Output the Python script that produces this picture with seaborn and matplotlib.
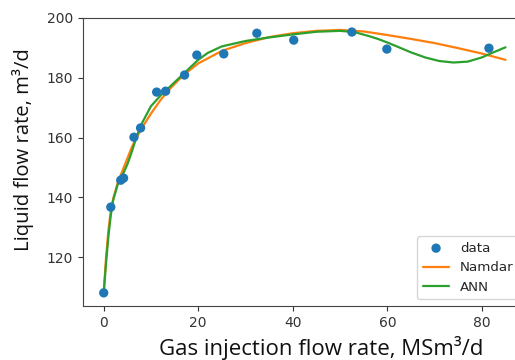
import numpy as np
import pandas as pd
import matplotlib
matplotlib.use("Agg")
import matplotlib.pyplot as plt
import seaborn as sns

sns.set_style("ticks")

# measured points
data_x = [0.0, 1.5, 3.6, 4.2, 6.4, 7.8, 11.2, 13.1, 17.1, 19.7, 25.4, 32.4, 40.2, 52.5, 59.9, 81.5]
data_y = [108.0, 136.7, 145.7, 146.4, 160.1, 163.2, 175.2, 175.5, 180.9, 187.6, 188.0, 194.9, 192.6, 195.3, 189.6, 189.9]

# Namdar correlation curve
namdar_x = [0, 0.5, 1, 1.5, 2, 3, 4, 5, 6, 8, 10, 12, 14, 16, 18, 20, 25, 30, 35, 40,
            45, 50, 55, 60, 65, 70, 75, 80, 85]
namdar_y = [108, 120, 129, 135.5, 139.5, 145, 149, 153, 157, 163, 168, 172.5, 176.3, 179.5, 182.3, 184.8,
            189, 191.6, 193.6, 194.9, 195.7, 196.0, 195.5, 194.3, 193.0, 191.6, 189.9, 188.1, 186.0]

# ANN curve
ann_x = [0, 0.5, 1, 1.5, 2, 3, 4, 5, 6, 7, 8, 10, 12, 14, 16, 18, 20, 22, 25, 30, 35, 40,
         45, 50, 53, 56, 58, 60, 62, 65, 68, 71, 74, 77, 80, 82, 85]
ann_y = [108, 118, 127, 134, 139, 144.5, 147.5, 151, 155.5, 160.5, 164.5, 170.5, 174, 177, 180, 183, 186,
         188.3, 190.5, 192.3, 193.5, 194.5, 195.4, 195.7, 195.3, 194.0, 193.0, 191.8, 190.5, 188.5,
         186.8, 185.6, 185.1, 185.4, 186.8, 188.2, 190.2]

df_data = pd.DataFrame({"x": data_x, "y": data_y})
df_namdar = pd.DataFrame({"x": namdar_x, "y": namdar_y})
df_ann = pd.DataFrame({"x": ann_x, "y": ann_y})

fig = plt.figure(figsize=(5.15, 3.6), dpi=100)
ax = fig.add_axes([0.161, 0.15, 0.86, 0.80])

sns.scatterplot(data=df_data, x="x", y="y", ax=ax, color="#1f77b4", s=45,
                edgecolor="none", label="data", zorder=3)
sns.lineplot(data=df_namdar, x="x", y="y", ax=ax, color="#ff7f0e", lw=1.6,
             label="Namdar", sort=False)
sns.lineplot(data=df_ann, x="x", y="y", ax=ax, color="#2ca02c", lw=1.6,
             label="ANN", sort=False)

ax.set_xlim(-4.4, 89.3)
ax.set_ylim(103.6, 200.0)
ax.set_xticks([0, 20, 40, 60, 80])
ax.set_yticks([120, 140, 160, 180, 200])
ax.tick_params(labelsize=10, colors="#333333")
for sp in ax.spines.values():
    sp.set_color("#444444")
ax.set_xlabel("")
ax.set_ylabel("")

# axis titles placed like the reference (slightly off-centre)
fig.text(321 / 515, 5 / 360, "Gas injection flow rate, MSm³/d", fontsize=16,
         family="Open Sans", ha="center", va="baseline", color="#111111")
fig.text(23 / 515, 1 - 150 / 360, "Liquid flow rate, m³/d", fontsize=14.6,
         family="Open Sans", ha="center", va="center", rotation=90, color="#111111")

ax.legend(loc="lower right", fontsize=9.6, frameon=True)

fig.savefig("out.png", dpi=100)
